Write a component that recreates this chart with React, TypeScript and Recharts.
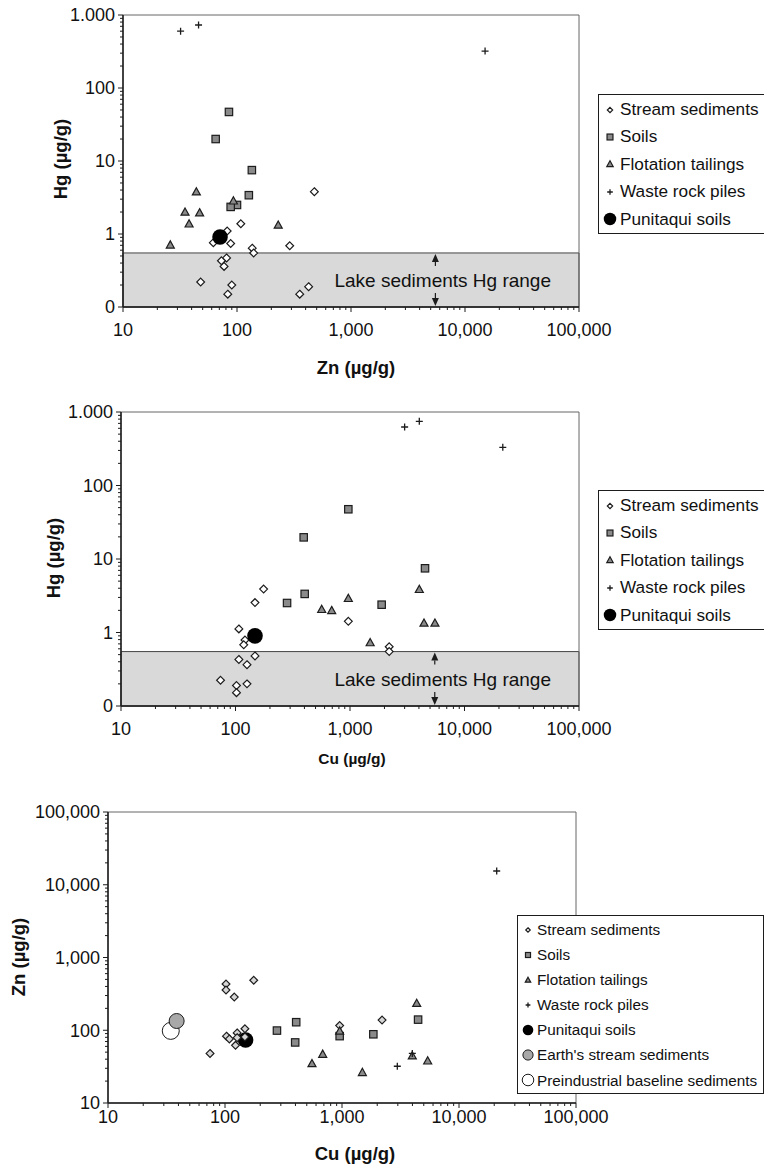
import React from "react";
import {
  Label,
  Legend,
  ReferenceArea,
  ReferenceDot,
  Scatter,
  ScatterChart,
  XAxis,
  YAxis,
} from "recharts";

const FONT = '"Liberation Sans", Arial, Helvetica, sans-serif';
const INK = "#1c1c1c";
const GREY = "#8a8a8a";
const PAGE_W = 764;

// axis decades and their labels
const metalDecades = [10, 100, 1000, 10000, 100000];
const metalLabels = ["10", "100", "1,000", "10,000", "100,000"];
const hgDecades = [0.1, 1, 10, 100, 1000];
const hgLabels = ["0", "1", "10", "100", "1.000"];
const minorSteps = [2, 3, 4, 5, 6, 7, 8, 9];

// lake sediments Hg range (µg/g) and where its arrows sit on the x axis
const lakeHgRange = [0.1, 0.55];
const lakeArrowX = 5500;

// --- panel A: Zn vs Hg ---
const znStreamA = [477, 108, 82, 62, 88, 136, 140, 290, 81, 73, 77, 48, 90, 83, 355, 425];
const hgStreamA = [3.8, 1.38, 1.1, 0.76, 0.74, 0.64, 0.55, 0.69, 0.47, 0.43, 0.36, 0.22, 0.2, 0.15, 0.15, 0.19];
const znSoilA = [85, 65, 135, 127, 100, 88];
const hgSoilA = [47, 20, 7.5, 3.4, 2.5, 2.35];
const znTailA = [26, 35, 38, 44, 47, 93, 230];
const hgTailA = [0.71, 2.0, 1.38, 3.8, 1.96, 2.85, 1.33];
const znWasteA = [32, 46, 15000];
const hgWasteA = [600, 730, 320];
const znPuniA = [71];
const hgPuniA = [0.91];

// --- panel B: Cu vs Hg ---
const cuStreamB = [176, 148, 967, 107, 121, 118, 2200, 2200, 148, 107, 126, 74, 126, 102, 102];
const hgStreamB = [3.9, 2.55, 1.42, 1.12, 0.79, 0.68, 0.64, 0.55, 0.48, 0.43, 0.365, 0.224, 0.2, 0.19, 0.152];
const cuSoilB = [967, 394, 402, 282, 1890, 4520];
const hgSoilB = [47.5, 19.7, 3.35, 2.52, 2.39, 7.47];
const cuTailB = [566, 692, 967, 1500, 4030, 4430, 5520];
const hgTailB = [2.07, 2.0, 2.92, 0.73, 3.87, 1.35, 1.35];
const cuWasteB = [3000, 4030, 21600];
const hgWasteB = [625, 747, 331];
const cuPuniB = [148];
const hgPuniB = [0.9];

// --- panel C: Cu vs Zn ---
const cuStreamC = [102, 102, 120, 176, 74.5, 103, 109, 127, 127, 148, 148, 123, 955, 2200];
const znStreamC = [432, 357, 286, 486, 48, 83, 76, 92, 79, 105, 81, 62, 116, 138];
const cuSoilC = [278, 406, 398, 955, 1853, 4470];
const znSoilC = [99, 129, 68, 83, 88, 140];
const cuTailC = [554, 684, 955, 1493, 4350, 3990, 5400];
const znTailC = [35, 47, 98, 26.4, 235, 44.7, 38];
const cuWasteC = [2970, 3990, 21000];
const znWasteC = [32, 48, 15450];
const cuPuniC = [150];
const znPuniC = [73.5];
const cuEarthC = [38.6];
const znEarthC = [134];
const cuPreC = [34.4];
const znPreC = [98];

const legendAB = ["Stream sediments", "Soils", "Flotation tailings", "Waste rock piles", "Punitaqui soils"];
const legendC = [...legendAB, "Earth's stream sediments", "Preindustrial baseline sediments"];
const kindsAB = ["diamond", "square", "triangle", "plus", "punitaqui"];
const kindsC = [...kindsAB, "earth", "preindustrial"];

type Pt = { x: number; y: number };
const pts = (xs: number[], ys: number[]): Pt[] => xs.map((x, i) => ({ x, y: ys[i] }));
const withMinor = (decades: number[]) =>
  decades.flatMap((d, i) => (i < decades.length - 1 ? [d, ...minorSteps.map((s) => d * s)] : [d]));

function Marker({ kind, cx, cy, k = 1 }: { kind: string; cx: number; cy: number; k?: number }) {
  if (kind === "diamond" || kind === "diamondGrey") {
    const r = 3.9 * k;
    return (
      <polygon
        points={`${cx},${cy - r} ${cx + r},${cy} ${cx},${cy + r} ${cx - r},${cy}`}
        fill={kind === "diamond" ? "#fff" : "#d6d6d6"}
        stroke={INK}
        strokeWidth={1.2}
      />
    );
  }
  if (kind === "square") {
    const s = 3.7 * k;
    return <rect x={cx - s} y={cy - s} width={2 * s} height={2 * s} fill={GREY} stroke={INK} strokeWidth={1.2} />;
  }
  if (kind === "triangle") {
    const s = 4 * k;
    return (
      <polygon
        points={`${cx},${cy - s} ${cx + s},${cy + s * 0.8} ${cx - s},${cy + s * 0.8}`}
        fill={GREY}
        stroke={INK}
        strokeWidth={1.2}
      />
    );
  }
  if (kind === "plus") {
    const s = 3.5 * k;
    return <path d={`M${cx - s},${cy}H${cx + s}M${cx},${cy - s}V${cy + s}`} stroke={INK} strokeWidth={1.3} />;
  }
  if (kind === "punitaqui") return <circle cx={cx} cy={cy} r={7.8 * k} fill="#000" />;
  if (kind === "earth") return <circle cx={cx} cy={cy} r={7.5 * k} fill="#a8a8a8" stroke={INK} strokeWidth={1} />;
  return <circle cx={cx} cy={cy} r={8.5 * k} fill="#fff" stroke={INK} strokeWidth={1} />;
}

function XTick(props: any) {
  const { x, y, payload, majors, labels, gap } = props;
  const i = majors.indexOf(payload.value);
  return (
    <g>
      <line x1={x} y1={y} x2={x} y2={y + (i >= 0 ? 5 : 3)} stroke={INK} strokeWidth={1} />
      {i >= 0 && (
        <text x={x} y={y + gap} dy="0.36em" textAnchor="middle" fontSize={18} fill="#111" fontFamily={FONT}>
          {labels[i]}
        </text>
      )}
    </g>
  );
}

function YTick(props: any) {
  const { x, y, payload, majors, labels } = props;
  const i = majors.indexOf(payload.value);
  return (
    <g>
      <line x1={x - (i >= 0 ? 5 : 3)} y1={y} x2={x} y2={y} stroke={INK} strokeWidth={1} />
      {i >= 0 && (
        <text x={x - 8} y={y} dy="0.36em" textAnchor="end" fontSize={18} fill="#111" fontFamily={FONT}>
          {labels[i]}
        </text>
      )}
    </g>
  );
}

function LegendBox({ names, kinds, fontSize, rowH, markX, textX, k }: any) {
  return (
    <div
      style={{
        border: `1px solid ${INK}`,
        background: "#fff",
        paddingTop: 1,
        boxSizing: "border-box",
        height: names.length * rowH + 3,
        fontFamily: FONT,
        fontSize,
        color: "#111",
      }}
    >
      {names.map((name: string, i: number) => (
        <div key={name} style={{ position: "relative", height: rowH, lineHeight: `${rowH}px`, whiteSpace: "nowrap" }}>
          <svg width={18} height={18} style={{ position: "absolute", left: markX - 9, top: rowH / 2 - 9 }}>
            <Marker kind={kinds[i]} cx={9} cy={9} k={kinds[i] === "diamond" ? k * 0.85 : k} />
          </svg>
          <span style={{ position: "absolute", left: textX }}>{name}</span>
        </div>
      ))}
    </div>
  );
}

type Series = { name: string; kind: string; data: Pt[] };

function Panel(cfg: any) {
  const { top, height, plot, yDecades, yLabels, series, legend, band, xTitle, yTitle, xGap } = cfg;
  const xDom = [metalDecades[0], metalDecades[metalDecades.length - 1]];
  const yDom = [yDecades[0], yDecades[yDecades.length - 1]];
  return (
    <div style={{ position: "absolute", left: 0, top, width: PAGE_W, height }}>
      <ScatterChart
        width={PAGE_W}
        height={height}
        margin={{ top: plot.top - top, right: PAGE_W - plot.right, bottom: 0, left: 0 }}
        style={{ fontFamily: FONT }}
      >
        {band && (
          <ReferenceArea
            x1={xDom[0]}
            x2={xDom[1]}
            y1={lakeHgRange[0]}
            y2={lakeHgRange[1]}
            fill="#d9d9d9"
            fillOpacity={1}
            stroke="#444"
            strokeWidth={1}
            ifOverflow="visible"
            label={{
              value: "Lake sediments Hg range",
              position: "insideRight",
              offset: 28,
              fontSize: 19,
              fill: "#111",
              fontFamily: FONT,
            }}
          />
        )}
        <ReferenceArea
          x1={xDom[0]}
          x2={xDom[1]}
          y1={yDom[0]}
          y2={yDom[1]}
          fill="none"
          stroke="#666"
          strokeWidth={1}
          ifOverflow="visible"
        />
        <XAxis
          type="number"
          dataKey="x"
          scale="log"
          domain={xDom}
          allowDataOverflow
          ticks={withMinor(metalDecades)}
          interval={0}
          tickSize={0}
          tickMargin={0}
          tickLine={false}
          axisLine={{ stroke: INK, strokeWidth: 1.5 }}
          height={top + height - plot.bottom}
          tick={<XTick majors={metalDecades} labels={metalLabels} gap={xGap} />}
          label={() => (
            <text
              x={xTitle.x}
              y={xTitle.y - top}
              dy="0.36em"
              textAnchor="middle"
              fontSize={xTitle.size}
              fontWeight="bold"
              fill="#111"
              fontFamily={FONT}
            >
              {xTitle.text}
            </text>
          )}
        />
        <YAxis
          type="number"
          dataKey="y"
          scale="log"
          domain={yDom}
          allowDataOverflow
          ticks={withMinor(yDecades)}
          interval={0}
          tickSize={0}
          tickMargin={0}
          tickLine={false}
          axisLine={{ stroke: INK, strokeWidth: 1.5 }}
          width={plot.left}
          tick={<YTick majors={yDecades} labels={yLabels} />}
        >
          <Label
            content={() => (
              <text
                x={yTitle.x}
                y={yTitle.y - top}
                dy="0.36em"
                textAnchor="middle"
                fontSize={18.5}
                fontWeight="bold"
                fill="#111"
                fontFamily={FONT}
                transform={`rotate(-90 ${yTitle.x} ${yTitle.y - top})`}
              >
                {yTitle.text}
              </text>
            )}
          />
        </YAxis>
        {band && (
          <ReferenceDot
            x={lakeArrowX}
            y={lakeHgRange[1]}
            ifOverflow="visible"
            shape={(p: any) => (
              <g>
                <polygon points={`${p.cx},${p.cy + 1} ${p.cx - 3.5},${p.cy + 9} ${p.cx + 3.5},${p.cy + 9}`} fill={INK} />
                <line x1={p.cx} y1={p.cy + 9} x2={p.cx} y2={p.cy + 13} stroke={INK} strokeWidth={1.2} />
              </g>
            )}
          />
        )}
        {band && (
          <ReferenceDot
            x={lakeArrowX}
            y={lakeHgRange[0]}
            ifOverflow="visible"
            shape={(p: any) => (
              <g>
                <polygon points={`${p.cx},${p.cy - 1} ${p.cx - 3.5},${p.cy - 9} ${p.cx + 3.5},${p.cy - 9}`} fill={INK} />
                <line x1={p.cx} y1={p.cy - 9} x2={p.cx} y2={p.cy - 14} stroke={INK} strokeWidth={1.2} />
              </g>
            )}
          />
        )}
        {series.map((s: Series) => (
          <Scatter
            key={s.name}
            name={s.name}
            data={s.data}
            isAnimationActive={false}
            shape={(p: any) => <Marker kind={s.kind} cx={p.cx} cy={p.cy} />}
          />
        ))}
        <Legend
          layout="vertical"
          align="center"
          verticalAlign="middle"
          wrapperStyle={{ left: legend.left, top: legend.top - top, width: legend.width }}
          content={() => (
            <LegendBox
              names={legend.names}
              kinds={legend.kinds}
              fontSize={legend.fontSize}
              rowH={legend.rowH}
              markX={legend.markX}
              textX={legend.textX}
              k={legend.k}
            />
          )}
        />
      </ScatterChart>
    </div>
  );
}

const seriesA: Series[] = [
  { name: legendAB[0], kind: "diamond", data: pts(znStreamA, hgStreamA) },
  { name: legendAB[1], kind: "square", data: pts(znSoilA, hgSoilA) },
  { name: legendAB[2], kind: "triangle", data: pts(znTailA, hgTailA) },
  { name: legendAB[3], kind: "plus", data: pts(znWasteA, hgWasteA) },
  { name: legendAB[4], kind: "punitaqui", data: pts(znPuniA, hgPuniA) },
];

const seriesB: Series[] = [
  { name: legendAB[0], kind: "diamond", data: pts(cuStreamB, hgStreamB) },
  { name: legendAB[1], kind: "square", data: pts(cuSoilB, hgSoilB) },
  { name: legendAB[2], kind: "triangle", data: pts(cuTailB, hgTailB) },
  { name: legendAB[3], kind: "plus", data: pts(cuWasteB, hgWasteB) },
  { name: legendAB[4], kind: "punitaqui", data: pts(cuPuniB, hgPuniB) },
];

const seriesC: Series[] = [
  { name: legendC[6], kind: "preindustrial", data: pts(cuPreC, znPreC) },
  { name: legendC[5], kind: "earth", data: pts(cuEarthC, znEarthC) },
  { name: legendC[4], kind: "punitaqui", data: pts(cuPuniC, znPuniC) },
  { name: legendC[0], kind: "diamondGrey", data: pts(cuStreamC, znStreamC) },
  { name: legendC[1], kind: "square", data: pts(cuSoilC, znSoilC) },
  { name: legendC[2], kind: "triangle", data: pts(cuTailC, znTailC) },
  { name: legendC[3], kind: "plus", data: pts(cuWasteC, znWasteC) },
];

// the upper two legends run off the page in the reference; text kept just inside it
const legendBigAB = { names: legendAB, kinds: kindsAB, width: 200, fontSize: 17.2, rowH: 27.4, markX: 11, textX: 21, k: 0.8 };

export default function App() {
  return (
    <div
      style={{
        position: "absolute",
        left: 0,
        top: 0,
        width: PAGE_W,
        height: 1164,
        overflow: "hidden",
        background: "#fff",
        fontFamily: FONT,
      }}
    >
      <Panel
        top={0}
        height={390}
        plot={{ left: 123, right: 579, top: 15, bottom: 307 }}
        yDecades={hgDecades}
        yLabels={hgLabels}
        series={seriesA}
        band
        xGap={23}
        xTitle={{ text: "Zn (µg/g)", x: 356, y: 367, size: 18.5 }}
        yTitle={{ text: "Hg (µg/g)", x: 60, y: 159 }}
        legend={{ ...legendBigAB, left: 598, top: 94 }}
      />
      <Panel
        top={390}
        height={390}
        plot={{ left: 121, right: 579, top: 412, bottom: 706 }}
        yDecades={hgDecades}
        yLabels={hgLabels}
        series={seriesB}
        band
        xGap={22.5}
        xTitle={{ text: "Cu (µg/g)", x: 352, y: 758, size: 15.5 }}
        yTitle={{ text: "Hg (µg/g)", x: 53, y: 558 }}
        legend={{ ...legendBigAB, left: 598, top: 490 }}
      />
      <Panel
        top={780}
        height={384}
        plot={{ left: 108, right: 576, top: 812, bottom: 1103 }}
        yDecades={metalDecades}
        yLabels={metalLabels}
        series={seriesC}
        band={false}
        xGap={14}
        xTitle={{ text: "Cu (µg/g)", x: 355, y: 1153, size: 18.5 }}
        yTitle={{ text: "Zn (µg/g)", x: 18, y: 957 }}
        legend={{
          names: legendC,
          kinds: kindsC,
          width: 247,
          fontSize: 15.3,
          rowH: 25.1,
          markX: 10,
          textX: 19,
          k: 0.68,
          left: 517,
          top: 915,
        }}
      />
    </div>
  );
}
